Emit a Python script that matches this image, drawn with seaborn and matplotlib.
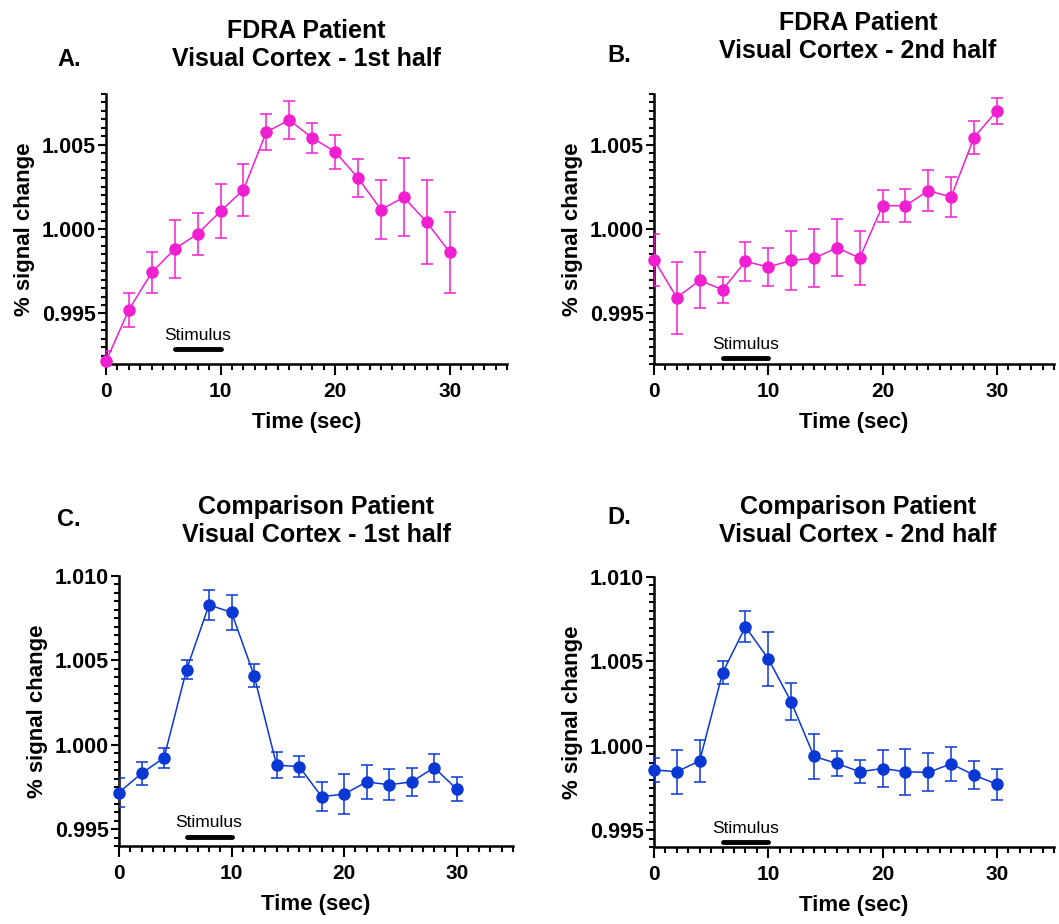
import numpy as np
import pandas as pd
import matplotlib
matplotlib.use("Agg")
import matplotlib.pyplot as plt
import matplotlib.transforms as mtransforms
from matplotlib.ticker import MultipleLocator, FormatStrFormatter
import seaborn as sns

# ── Data ─────────────────────────────────────────────────────
time = [0, 2, 4, 6, 8, 10, 12, 14, 16, 18, 20, 22, 24, 26, 28, 30]
stimulus = [6, 10]

fdra_1st_mean = [0.99215, 0.99522, 0.99743, 0.99881, 0.99972, 1.00105, 1.00233, 1.00575,
                 1.00646, 1.00540, 1.00458, 1.00302, 1.00115, 1.00188, 1.00040, 0.99862]
fdra_1st_sem = [0.0006, 0.0010, 0.0012, 0.0017, 0.00125, 0.0016, 0.00154, 0.00105,
                0.00113, 0.00087, 0.0010, 0.0011, 0.00176, 0.0023, 0.0025, 0.0024]

fdra_2nd_mean = [0.99818, 0.99593, 0.99696, 0.99640, 0.99808, 0.99775, 0.99814, 0.99826,
                 0.99889, 0.99828, 1.00138, 1.00138, 1.00227, 1.00190, 1.00542, 1.00700]
fdra_2nd_sem = [0.00154, 0.00214, 0.00165, 0.00077, 0.00114, 0.0011, 0.00173, 0.00172,
                0.0017, 0.0016, 0.00096, 0.00098, 0.0012, 0.00116, 0.00096, 0.00078]

comp_1st_mean = [0.99717, 0.99830, 0.99923, 1.00445, 1.00829, 1.00784, 1.00410, 0.99879,
                 0.99871, 0.99693, 0.99707, 0.99780, 0.99763, 0.99780, 0.99865, 0.99737]
comp_1st_sem = [0.00087, 0.00067, 0.0006, 0.00055, 0.00089, 0.00105, 0.00067, 0.00077,
                0.00064, 0.00087, 0.00118, 0.00099, 0.00091, 0.00081, 0.00083, 0.00073]

comp_2nd_mean = [0.99857, 0.99846, 0.99911, 1.00432, 1.00705, 1.00515, 1.00261, 0.99937,
                 0.99895, 0.99846, 0.99865, 0.99846, 0.99842, 0.99893, 0.99826, 0.99772]
comp_2nd_sem = [0.00069, 0.0013, 0.00123, 0.00069, 0.00092, 0.00158, 0.0011, 0.00135,
                0.00076, 0.00068, 0.00109, 0.00137, 0.00113, 0.00101, 0.00085, 0.00093]

titles = ["FDRA Patient\nVisual Cortex - 1st half",
          "FDRA Patient\nVisual Cortex - 2nd half",
          "Comparison Patient\nVisual Cortex - 1st half",
          "Comparison Patient\nVisual Cortex - 2nd half"]
letters = ["A.", "B.", "C.", "D."]

# ── Style ─────────────────────────────────────────────────────
sns.set_style("ticks")
plt.rcParams["font.family"] = ["Liberation Sans", "DejaVu Sans"]
plt.rcParams["text.color"] = "black"
plt.rcParams["axes.labelcolor"] = "black"
plt.rcParams["xtick.color"] = "black"
plt.rcParams["ytick.color"] = "black"

MAGENTA = "#F020D0"
BLUE = "#0A38D4"

W, H = 1059, 924
fig = plt.figure(figsize=(W / 100, H / 100), dpi=100)

# panel layout in pixels: left, top, width, height, ylim, title centre, letter pos,
# stimulus bar / label heights (axes fraction)
panels = [
    dict(mean=fdra_1st_mean, sem=fdra_1st_sem, color=MAGENTA, box=(106, 94, 401, 270),
         ylim=(0.992, 1.008), title_xy=(306, 45), letter_xy=(57, 60), bar=0.056, lab=0.09),
    dict(mean=fdra_2nd_mean, sem=fdra_2nd_sem, color=MAGENTA, box=(654, 94, 400, 270),
         ylim=(0.992, 1.008), title_xy=(858, 37), letter_xy=(607, 55), bar=0.022, lab=0.056),
    dict(mean=comp_1st_mean, sem=comp_1st_sem, color=BLUE, box=(119, 576, 394, 270),
         ylim=(0.994, 1.010), title_xy=(316, 521), letter_xy=(57, 520), bar=0.033, lab=0.07),
    dict(mean=comp_2nd_mean, sem=comp_2nd_sem, color=BLUE, box=(654, 577, 400, 270),
         ylim=(0.994, 1.010), title_xy=(858, 521), letter_xy=(607, 518), bar=0.019, lab=0.052),
]

for i, p in enumerate(panels):
    left, top, width, height = p["box"]
    ax = fig.add_axes([left / W, 1 - (top + height) / H, width / W, height / H])

    df = pd.DataFrame({"time": time, "mean": p["mean"], "sem": p["sem"]})

    ax.errorbar(df["time"], df["mean"], yerr=df["sem"], fmt="none",
                ecolor=p["color"], elinewidth=1.1, capsize=4, capthick=1.1, zorder=3)
    sns.lineplot(data=df, x="time", y="mean", ax=ax, color=p["color"],
                 marker="o", markersize=9, markeredgewidth=0, linewidth=1.1,
                 zorder=4, clip_on=False)

    ax.set_xlim(0, 35)
    ax.set_ylim(*p["ylim"])
    ax.xaxis.set_major_locator(MultipleLocator(10))
    ax.xaxis.set_minor_locator(MultipleLocator(1))
    ax.yaxis.set_major_locator(MultipleLocator(0.005))
    ax.yaxis.set_minor_locator(MultipleLocator(0.0005))
    ax.yaxis.set_major_formatter(FormatStrFormatter("%.3f"))

    sns.despine(ax=ax)
    for side in ["left", "bottom"]:
        ax.spines[side].set_linewidth(1.8)
        ax.spines[side].set_color("black")

    ax.tick_params(axis="x", which="major", length=8, width=1.5, pad=5,
                   labelsize=15, color="black", labelcolor="black")
    ax.tick_params(axis="x", which="minor", length=4.5, width=1.5, color="black")
    ax.tick_params(axis="y", which="major", length=6, width=1.5, pad=1.5,
                   labelsize=15.5, color="black", labelcolor="black")
    ax.tick_params(axis="y", which="minor", length=3.5, width=1.5, color="black")
    for lbl in ax.get_xticklabels() + ax.get_yticklabels():
        lbl.set_fontweight("bold")

    ax.set_xlabel("Time (sec)", fontsize=16, fontweight="bold", labelpad=8, color="black")
    ax.set_ylabel("% signal change", fontsize=16, fontweight="bold", labelpad=5, color="black")

    # stimulus bar
    trans = mtransforms.blended_transform_factory(ax.transData, ax.transAxes)
    ax.plot(stimulus, [p["bar"], p["bar"]], color="black", linewidth=3.5,
            solid_capstyle="round", transform=trans, clip_on=False)
    ax.text(np.mean(stimulus), p["lab"], "Stimulus", transform=trans,
            ha="center", va="baseline", fontsize=12.5, color="black")

    # titles and panel letters
    tx, ty = p["title_xy"]
    fig.text(tx / W, 1 - ty / H, titles[i], ha="center", va="center",
             fontsize=18, fontweight="bold", linespacing=1.2, color="black")
    lx, ly = p["letter_xy"]
    fig.text(lx / W, 1 - ly / H, letters[i], ha="left", va="center",
             fontsize=17, fontweight="bold", color="black")

fig.savefig("out.png", dpi=100, facecolor="white")
